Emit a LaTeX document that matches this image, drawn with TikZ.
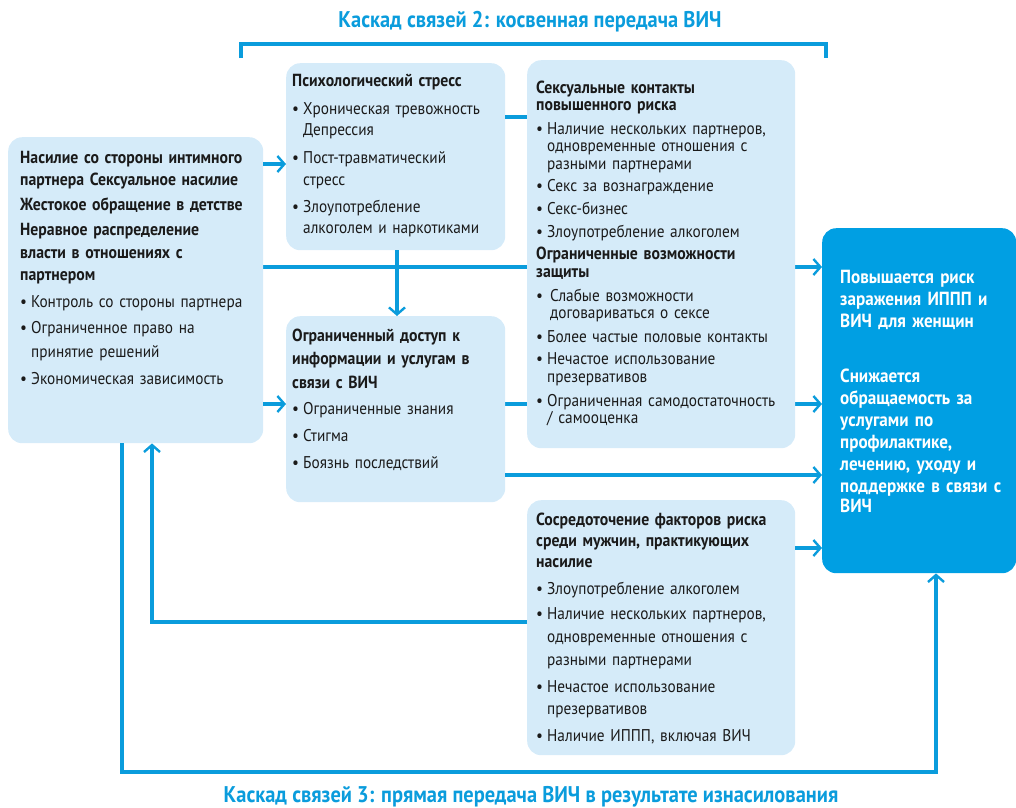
\documentclass[tikz,border=0pt]{standalone}
\usepackage{fontspec}
\setmainfont{PT Sans}[FakeStretch=0.9]
\usetikzlibrary{arrows.meta,backgrounds}
\definecolor{lb}{HTML}{D5EBF9}
\definecolor{db}{HTML}{009FE3}
\definecolor{ln}{HTML}{0A9CDC}
\definecolor{tx}{HTML}{1A1A1A}
\newcommand\bul{\makebox[11pt][l]{\textbullet}}
\newcommand\ind{\hspace*{11pt}}
\newcommand\hb[1]{\bfseries\fontsize{17.5}{#1}\selectfont}
\tikzset{
  box/.style={draw=none, fill=lb, rounded corners=14pt, inner sep=0pt, anchor=north west},
  rbox/.style={box, fill=db},
  txt/.style={anchor=base west, inner sep=0pt, align=left, text=tx, text width=#1},
  conn/.style={draw=ln, line width=3.2pt},
  arr/.style={conn, -{Straight Barb[length=7pt,width=16pt,line width=2.4pt]}},
  ttl/.style={text=ln, font=\bfseries\fontsize{22.7}{24}\selectfont, inner sep=0pt}
}
\begin{document}
\begin{tikzpicture}[x=1pt,y=-1pt]
\useasboundingbox (0,0) rectangle (1016,807);
% boxes
\node[box, minimum width=255, minimum height=306] (L) at (8,137) {};
\node[box, minimum width=219, minimum height=187] (P) at (286,63) {};
\node[box, minimum width=268, minimum height=388] (S) at (527,60) {};
\node[box, minimum width=219, minimum height=186] (A) at (286,316) {};
\node[box, minimum width=268, minimum height=255] (M) at (527,500) {};
\node[rbox, minimum width=194, minimum height=345] (R) at (822,228) {};
% helper coordinates
\coordinate (y164) at (0,164);
\coordinate (y117) at (0,117);
\coordinate (y267) at (0,267);
\coordinate (y404) at (0,404);
\coordinate (y475) at (0,475);
\coordinate (y548) at (0,548);
\coordinate (k1) at (152,622);
\coordinate (c1) at (122,772);
\coordinate (c2) at (936,772);
\coordinate (x397) at (397,0);
% connectors
\begin{pgfonlayer}{background}
\draw[arr] (L.east |- y267) -- (R.west |- y267);
\draw[arr] (A.east |- y404) -- (R.west |- y404);
\end{pgfonlayer}
\draw[arr] (L.east |- y164) -- (P.west |- y164);
\draw[conn] (P.east |- y117) -- (S.west |- y117);
\draw[arr] (P.south -| x397) -- (A.north -| x397);
\draw[arr] (L.east |- y404) -- (A.west |- y404);
\draw[arr] (A.east |- y475) -- (R.west |- y475);
\draw[arr] (M.east |- y548) -- (R.west |- y548);
\draw[arr] (M.west |- k1) -- (k1) -- (L.south -| k1);
\draw[arr] (L.south -| c1) -- (c1) -- (c2) -- (R.south -| c2);
% bracket
\coordinate (b1) at (241,58);
\coordinate (b2) at (241,44);
\coordinate (b3) at (826,44);
\coordinate (b4) at (826,58);
\draw[conn] (b1) -- (b2) -- (b3) -- (b4);
% titles
\node[ttl] (t2) at (530,22) {Каскад связей 2: косвенная передача ВИЧ};
\node[ttl] (t3) at (531,797) {Каскад связей 3: прямая передача ВИЧ в результате изнасилования};
% texts
\node[txt=250, font=\fontsize{17}{23}\selectfont] (Lt) at (20,163) {%
{\hb{23}Насилие со стороны интимного\\[-1pt]
партнера Сексуальное насилие\\[2pt]
Жестокое обращение в детстве\\[2pt]
Неравное распределение\\
власти в отношениях с\\[-1pt]
партнером}\\[4pt]
\bul Контроль со стороны партнера\\[3pt]
\bul Ограниченное право на\\[1pt]
\ind принятие решений\\[4pt]
\bul Экономическая зависимость};
\node[txt=215, font=\fontsize{17}{21.5}\selectfont] (Pt) at (292,86) {%
{\hb{21.5}Психологический стресс}\\[6.5pt]
\bul Хроническая тревожность\\
\ind Депрессия\\[6.5pt]
\bul Пост-травматический\\
\ind стресс\\[5.5pt]
\bul Злоупотребление\\
\ind алкоголем и наркотиками};
\node[txt=260, font=\fontsize{17}{17.5}\selectfont] (St) at (536,93) {%
{\hb{17.5}Сексуальные контакты\\ повышенного риска}\\[6pt]
\bul Наличие нескольких партнеров,\\ \ind одновременные отношения с\\ \ind разными партнерами\\[4.5pt]
\bul Секс за вознаграждение\\[6pt]
\bul Секс-бизнес\\[5.5pt]
\bul Злоупотребление алкоголем\\[4.5pt]
{\hb{17.5}Ограниченные возможности\\ защиты}\\[6.5pt]
\bul\hspace*{3pt}Слабые возможности\\ \ind\hspace*{3pt}договариваться о сексе\\[6.5pt]
\bul Более частые половые контакты\\[4.5pt]
\bul Нечастое использование\\ \ind презервативов\\[6.5pt]
\bul Ограниченная самодостаточность\\ \ind / самооценка};
\node[txt=215, font=\fontsize{17}{23.5}\selectfont] (At) at (292,341) {%
{\hb{23.5}Ограниченный доступ к\\ информации и услугам в\\ связи с ВИЧ}\\[2.5pt]
\bul Ограниченные знания\\[3.5pt]
\bul Стигма\\[3.5pt]
\bul Боязнь последствий};
\node[txt=260, font=\fontsize{17}{22}\selectfont] (Mt) at (536,525) {%
{\hb{22}Сосредоточение факторов риска\\[-1pt] среди мужчин, практикующих\\[-1pt] насилие}\\[5pt]
\bul Злоупотребление алкоголем\\[3pt]
\bul Наличие нескольких партнеров,\\[1pt] \ind одновременные отношения с\\[1pt] \ind разными партнерами\\[5pt]
\bul Нечастое использование\\ \ind презервативов\\[5pt]
\bul Наличие ИППП, включая ВИЧ};
\node[txt=185, text=white, font=\bfseries\fontsize{19}{22}\selectfont] (Rt) at (840,283) {%
Повышается риск\\ заражения ИППП и\\ ВИЧ для женщин\\[33pt]
Снижается\\ обращаемость за\\ услугами по\\ профилактике,\\ лечению, уходу и\\ поддержке в связи с\\[-2pt] ВИЧ};
\end{tikzpicture}
\end{document}
